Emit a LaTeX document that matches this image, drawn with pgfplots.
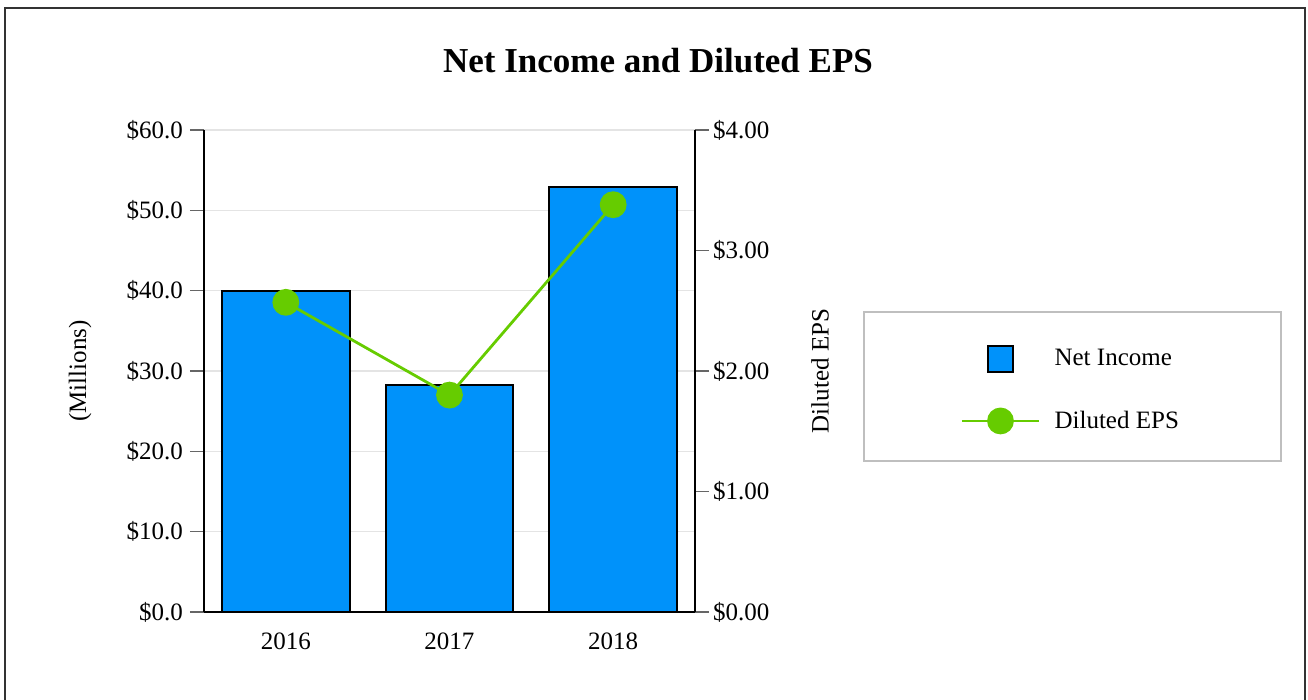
\documentclass[border=0pt]{standalone}
\usepackage{pgfplots}
\pgfplotsset{compat=1.18}
\usepackage{fontspec}
\setmainfont{Liberation Serif}

\definecolor{barblue}{RGB}{0,146,250}
\definecolor{epsgreen}{RGB}{102,204,0}
\definecolor{gridgray}{RGB}{228,228,228}
\definecolor{framegray}{RGB}{51,51,51}

\pgfplotsset{
  base/.style={
    scale only axis, width=245.5pt, height=241pt,
    at={(102pt,44pt)}, anchor=south west,
    xmin=-0.5, xmax=2.5,
    axis line style={-, black, line width=1.1pt},
    tick align=outside, major tick length=7pt,
    ytick style={color=black!60, line width=0.8pt},
    xtick style={draw=none},
  }
}

\begin{document}
\begin{tikzpicture}[font=\fontsize{12.5}{15}\selectfont]
\path[use as bounding box] (0,0) rectangle (654pt,350pt);
\draw[framegray, line width=1.2pt] (2.5pt,0) -- (2.5pt,346pt) -- (652.5pt,346pt) -- (652.5pt,0);
\node[font=\bfseries\fontsize{17.5}{20}\selectfont, anchor=base] at (329pt,313.5pt) {Net Income and Diluted EPS};

% net income, left axis (millions)
\begin{axis}[base,
  axis x line*=bottom, axis y line*=left,
  ymin=0, ymax=60, ytick={0,10,...,60},
  yticklabels={\$0.0,\$10.0,\$20.0,\$30.0,\$40.0,\$50.0,\$60.0},
  xtick={0,1,2}, xticklabels={2016,2017,2018},
  ymajorgrids, grid style={gridgray, line width=0.8pt},
  ylabel={(Millions)},
  ylabel style={at={(axis description cs:-0.2525,0.5)}, anchor=center},
]
\addplot[ybar, bar width=0.78, fill=barblue, draw=black, line width=1pt]
  coordinates {(0,40.0) (1,28.3) (2,52.9)};
\end{axis}

% diluted EPS, right axis
\begin{axis}[base,
  axis x line=none, axis y line*=right,
  ymin=0, ymax=4, ytick={0,1,...,4},
  yticklabels={\$0.00,\$1.00,\$2.00,\$3.00,\$4.00},
  yticklabel style={xshift=-1.5pt},
  ylabel={Diluted EPS},
  ylabel style={at={(axis description cs:1.2546,0.5)}, anchor=center},
  legend style={draw=none, fill=none, at={(axis description cs:1.5397,0.4606)},
    anchor=west, inner sep=0pt, row sep=17pt, column sep=5pt},
  legend cell align=left,
]
\addlegendimage{legend image code/.code={\draw[fill=barblue, draw=black, line width=1pt] (0.452cm,-0.228cm) rectangle (0.908cm,0.228cm);}}
\addlegendentry{Net Income}
\addplot[epsgreen, line width=1.4pt, mark=*, mark size=6pt,
  mark options={fill=epsgreen, draw=epsgreen},
  legend image code/.code={\draw[mark repeat=2, mark phase=2] plot coordinates {(0cm,0cm) (0.68cm,0cm) (1.36cm,0cm)};}]
  coordinates {(0,2.57) (1,1.80) (2,3.38)};
\addlegendentry{Diluted EPS}
\end{axis}

\draw[black!25, line width=0.8pt] (432pt,119.5pt) rectangle (640.5pt,194pt);
\end{tikzpicture}
\end{document}
